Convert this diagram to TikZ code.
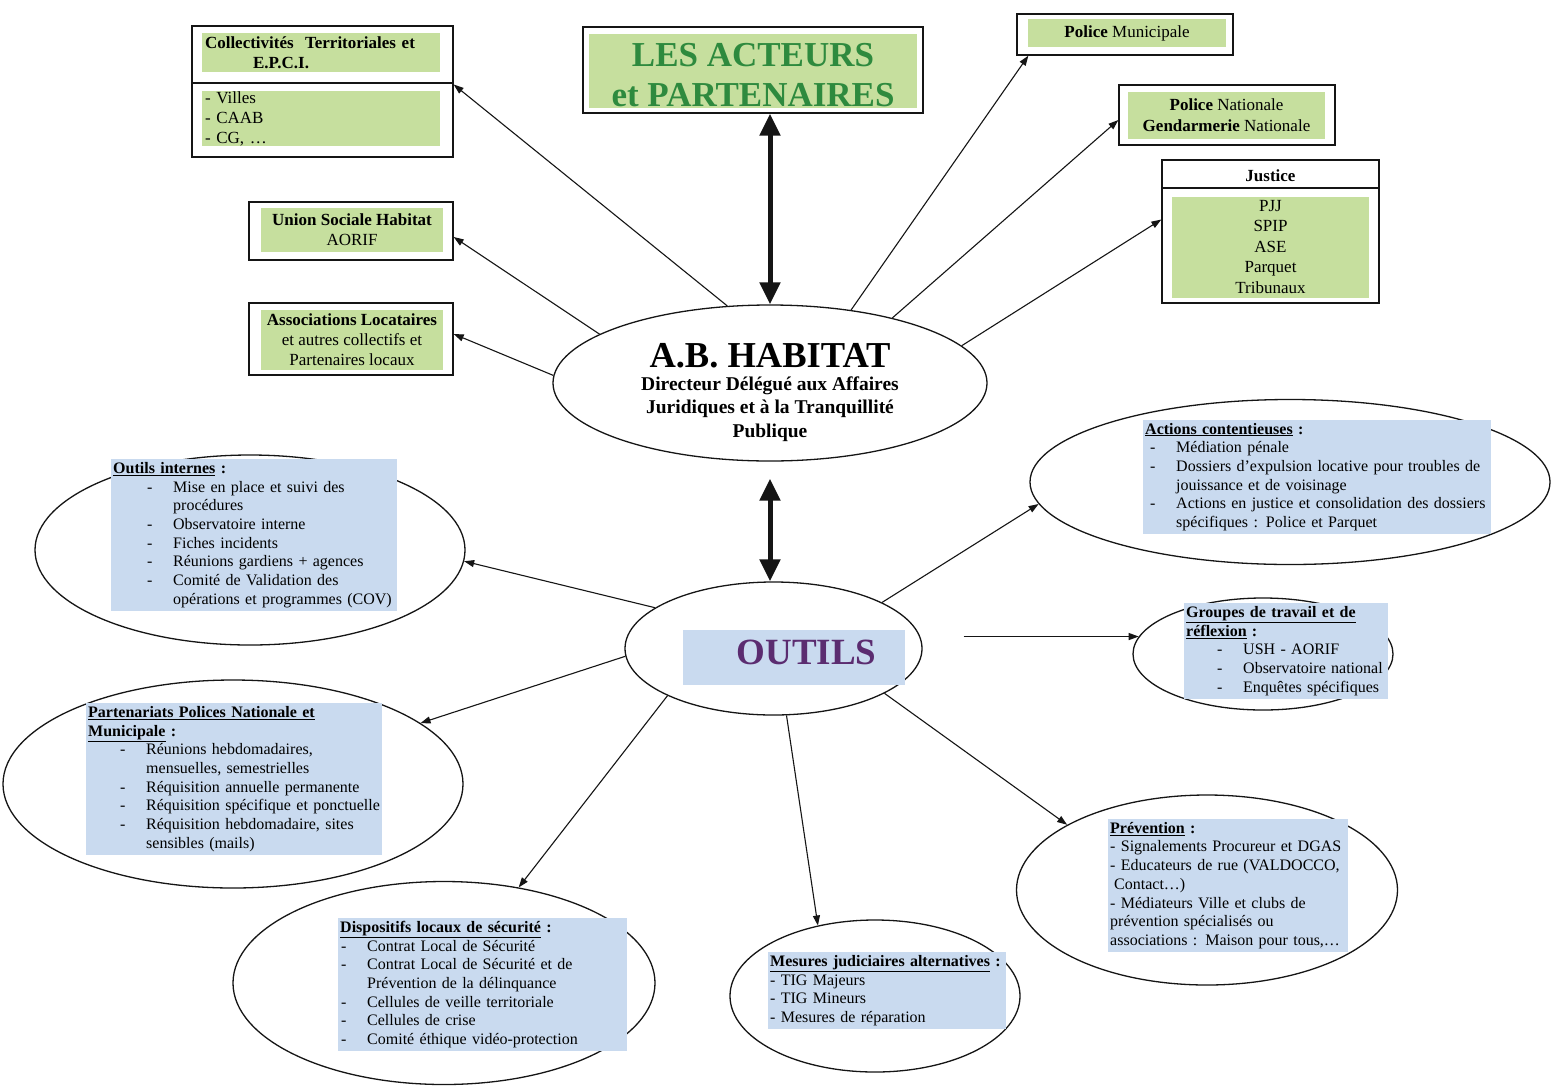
\documentclass[tikz,border=0pt]{standalone}
\usepackage{fontspec}
\setmainfont{Liberation Serif}
\usepackage{xcolor}
\usepackage{tikz}
\usetikzlibrary{arrows.meta,positioning,shapes.geometric}
\definecolor{ink}{HTML}{151515}
\definecolor{leafc}{HTML}{C6DF9E}
\definecolor{skyc}{HTML}{C9DAEF}
\definecolor{forest}{HTML}{2E8A3E}
\definecolor{plum}{HTML}{5B2C70}
\newcommand{\boxfont}{\fontsize{17}{20}\selectfont}
\newcommand{\listfont}{\fontsize{16}{18.7}\selectfont}
\newcommand{\hd}[1]{\underline{\textbf{#1}}}
\newcommand{\itm}[2][0pt]{\hspace*{#1}\makebox[26pt][l]{-}#2}
\newcommand{\cnt}[2][0pt]{\hspace*{#1}\hspace*{26pt}#2}
\tikzset{
  frame/.style={draw=ink, line width=1.3pt, fill=white, inner sep=0pt},
  leaf/.style={fill=leafc, inner xsep=3pt, inner ysep=0pt, align=center, font=\boxfont},
  sky/.style={fill=skyc, inner xsep=2pt, inner ysep=3pt, align=left, anchor=west, font=\listfont},
  bubble/.style={ellipse, draw=ink, line width=1.3pt, inner sep=0pt},
  link/.style={draw=ink, line width=1.1pt, -{Triangle[length=10pt,width=7pt]}},
  dbl/.style={draw=ink, line width=5pt, {Triangle[length=22pt,width=20pt]}-{Triangle[length=22pt,width=20pt]}},
}

\begin{document}
\begin{tikzpicture}[x=1pt,y=-1pt]
\path[use as bounding box, fill=white] (0,0) rectangle (1557,1087);

% acteurs et partenaires
\node[frame, minimum width=340, minimum height=86] (acteurs) at (753,70) {};
\node[leaf, minimum width=328, minimum height=74, font=\fontsize{35}{40}\selectfont\bfseries, text=forest] (acteurstxt) at (753,71) {\rule{0pt}{32pt}LES ACTEURS\\et PARTENAIRES};

\node[frame, minimum width=261, minimum height=131] (coll) at (322.5,91.5) {};
\draw[draw=ink, line width=1.3pt] (coll.west |- 0,83) -- (coll.east |- 0,83);
\node[leaf, minimum width=238, minimum height=39, text width=232, align=left, font=\boxfont\bfseries] (colltop) at (321,52.5) {Collectivités~ Territoriales et\\\hspace*{48pt}E.P.C.I.};
\node[leaf, minimum width=238, minimum height=55, text width=232, align=left] (collbot) at (321,118.5) {- Villes\\- CAAB\\- CG, …};

\node[frame, minimum width=204, minimum height=58] (ush) at (351,231) {};
\node[leaf, minimum width=182, minimum height=44] (ushtxt) at (352,230) {\textbf{Union Sociale Habitat}\\AORIF};

\node[frame, minimum width=204, minimum height=72] (asso) at (351,339) {};
\node[leaf, minimum width=182, minimum height=60] (assotxt) at (352,340) {\textbf{Associations Locataires}\\et autres collectifs et\\Partenaires locaux};

\node[frame, minimum width=216, minimum height=41] (pm) at (1125,34.5) {};
\node[leaf, minimum width=198, minimum height=28] (pmtxt) at (1127,33) {\textbf{Police} Municipale};

\node[frame, minimum width=216, minimum height=60] (pn) at (1227,115) {};
\node[leaf, minimum width=197, minimum height=47, font=\fontsize{17}{21}\selectfont] (pntxt) at (1226.5,115) {\textbf{Police} Nationale\\\textbf{Gendarmerie} Nationale};

\node[frame, minimum width=217, minimum height=143] (just) at (1270.5,231.5) {};
\draw[draw=ink, line width=1.3pt] (just.west |- 0,188) -- (just.east |- 0,188);
\node[font=\boxfont\bfseries, inner sep=0pt] (justhd) at (1270.5,176) {Justice};
\node[leaf, minimum width=197, minimum height=101, font=\fontsize{17}{20.5}\selectfont] (justtxt) at (1270.5,247) {PJJ\\SPIP\\ASE\\Parquet\\Tribunaux};

% a.b. habitat
\node[bubble, minimum width=434, minimum height=156] (hab) at (770,383) {};
\node[font=\fontsize{36.5}{40}\selectfont\bfseries, inner sep=0pt] (habname) at (770,356) {A.B. HABITAT};
\node[below=8pt of habname, inner sep=0pt, align=center, font=\fontsize{19.5}{23.5}\selectfont\bfseries] (habsub) {Directeur Délégué aux Affaires\\Juridiques et à la Tranquillité\\Publique};

% outils
\node[bubble, minimum width=297, minimum height=133] (outils) at (773.5,648.5) {};
\node[fill=skyc, minimum width=222, minimum height=55, inner sep=0pt, font=\fontsize{37}{40}\selectfont\bfseries, text=plum] (outilstxt) at (793.5,657.5) {\hspace*{26pt}\raisebox{10pt}{OUTILS}};

\draw[dbl] (acteurs.south -| hab.north) -- (hab.north);
\draw[dbl, shorten <=17pt] (hab.south) -- (hab.south |- outils.north);

\draw[link] (hab.119) -- ([yshift=7pt]coll.east);
\draw[link] (hab.164) -- ([yshift=-6pt]ush.east);
\draw[link] (hab.178) -- ([yshift=5pt]asso.east);
\draw[link] (hab.42) -- ([xshift=12pt]pm.south west);
\draw[link] (hab.28) -- ([yshift=-5pt]pn.west);
\draw[link] (hab.11) -- ([yshift=12pt]just.west);

% les outils
\node[bubble, minimum width=430, minimum height=190] (interne) at (250,550) {};
\node[sky, text width=282] (internetxt) at (111,535) {\hd{Outils internes} \textbf{:}\\
\itm[34pt]{Mise en place et suivi des}\\
\cnt[34pt]{procédures}\\
\itm[34pt]{Observatoire interne}\\
\itm[34pt]{Fiches incidents}\\
\itm[34pt]{Réunions gardiens + agences}\\
\itm[34pt]{Comité de Validation des}\\
\cnt[34pt]{opérations et programmes (COV)}};

\node[bubble, minimum width=460, minimum height=208] (polices) at (233,784) {};
\node[sky, text width=292] (policestxt) at (86,779) {\hd{Partenariats Polices Nationale et}\\
\hd{Municipale} \textbf{:}\\
\itm[32pt]{Réunions hebdomadaires,}\\
\cnt[32pt]{mensuelles, semestrielles}\\
\itm[32pt]{Réquisition annuelle permanente}\\
\itm[32pt]{Réquisition spécifique et ponctuelle}\\
\itm[32pt]{Réquisition hebdomadaire, sites}\\
\cnt[32pt]{sensibles (mails)}};

\node[bubble, minimum width=520, minimum height=165] (contentieux) at (1290,482) {};
\node[sky, text width=344] (contentieuxtxt) at (1143,477) {\hd{Actions contentieuses} \textbf{:}\\
\itm[5pt]{Médiation pénale}\\
\itm[5pt]{Dossiers d’expulsion locative pour troubles de}\\
\cnt[5pt]{jouissance et de voisinage}\\
\itm[5pt]{Actions en justice et consolidation des dossiers}\\
\cnt[5pt]{spécifiques : Police et Parquet}};

\node[bubble, minimum width=260, minimum height=112] (groupes) at (1263,654) {};
\node[sky, text width=200] (groupestxt) at (1184,651) {\hd{Groupes de travail et de}\\
\hd{réflexion} \textbf{:}\\
\itm[31pt]{USH - AORIF}\\
\itm[31pt]{Observatoire national}\\
\itm[31pt]{Enquêtes spécifiques}};

\node[bubble, minimum width=381, minimum height=190] (prevention) at (1207,890) {};
\node[sky, text width=236] (preventiontxt) at (1108,885.5) {\hd{Prévention} \textbf{:}\\
- Signalements Procureur et DGAS\\
- Educateurs de rue (VALDOCCO,\\
\hspace*{4pt}Contact…)\\
- Médiateurs Ville et clubs de\\
prévention spécialisés ou\\
associations : Maison pour tous,…};

\node[bubble, minimum width=422, minimum height=203] (dispositifs) at (444,983) {};
\node[sky, text width=285] (dispositifstxt) at (338,984.5) {\hd{Dispositifs locaux de sécurité} \textbf{:}\\
\itm[1pt]{Contrat Local de Sécurité}\\
\itm[1pt]{Contrat Local de Sécurité et de}\\
\cnt[1pt]{Prévention de la délinquance}\\
\itm[1pt]{Cellules de veille territoriale}\\
\itm[1pt]{Cellules de crise}\\
\itm[1pt]{Comité éthique vidéo-protection}};

\node[bubble, minimum width=290, minimum height=152] (mesures) at (875,996) {};
\node[sky, text width=234] (mesurestxt) at (768,990.5) {\hd{Mesures judiciaires alternatives} \textbf{:}\\
- TIG Majeurs\\
- TIG Mineurs\\
- Mesures de réparation};

\draw[link] (outils.161) -- (interne.-3);
\draw[link] (outils.23) -- (contentieux.185);
\draw[link, shorten <=41pt] (outils.east |- groupes.172) -- (groupes.172);
\draw[link] (outils.183) -- (polices.18);
\draw[link] (outils.204) -- (dispositifs.52);
\draw[link] (outils.281) -- (mesures.129);
\draw[link] (outils.338) -- (prevention.155);
\end{tikzpicture}
\end{document}
